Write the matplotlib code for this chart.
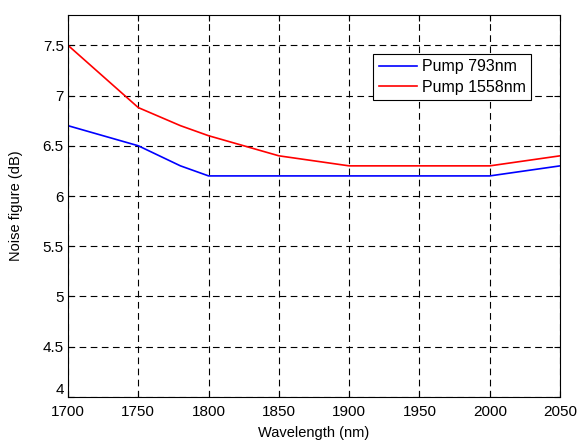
import numpy as np
import matplotlib.pyplot as plt

plt.rcParams['font.family'] = ['Liberation Sans', 'DejaVu Sans']

wavelength = [1700, 1750, 1780, 1800, 1850, 1900, 1950, 2000, 2050]
nf_793 = [6.7, 6.5, 6.3, 6.2, 6.2, 6.2, 6.2, 6.2, 6.3]
nf_1558 = [7.5, 6.88, 6.7, 6.6, 6.4, 6.3, 6.3, 6.3, 6.4]

xticks = np.arange(1700, 2051, 50)
yticks = [4, 4.5, 5, 5.5, 6, 6.5, 7, 7.5]
ytick_labels = ['4', '4.5', '5', '5.5', '6', '6.5', '7', '7.5']

fig = plt.figure(figsize=(5.81, 4.46), dpi=100)
ax = fig.add_axes([0.117, 0.110, 0.847, 0.856])

ax.plot(wavelength, nf_793, color='blue', lw=1.2, label='Pump 793nm')
ax.plot(wavelength, nf_1558, color='red', lw=1.2, label='Pump 1558nm')

ax.set_xlim(1700, 2050)
ax.set_ylim(4, 7.8)
ax.set_xticks(xticks)
ax.set_yticks(yticks)
ax.set_yticklabels(ytick_labels)
ax.tick_params(direction='in', top=True, right=True, labelsize=11, length=4)
ax.tick_params(axis='x', pad=6)
ax.tick_params(axis='y', pad=3)
ax.grid(True, color='black', linestyle=(0, (6, 4)), lw=0.8)

# the lowest y label sits a little higher, as in the original
ax.get_yticklabels()[0].set_va('bottom')

ax.set_xlabel('Wavelength (nm)', fontsize=10.5, labelpad=5)
ax.set_ylabel('Noise figure (dB)', fontsize=10.5, labelpad=14)

leg = ax.legend(loc='upper right', bbox_to_anchor=(0.958, 0.92), fontsize=11.5,
                fancybox=False, framealpha=1, edgecolor='black',
                handlelength=2.4, borderpad=0.35, labelspacing=0.35, handletextpad=0.3)
leg.get_frame().set_linewidth(0.8)

fig.savefig('out.png', dpi=100)
